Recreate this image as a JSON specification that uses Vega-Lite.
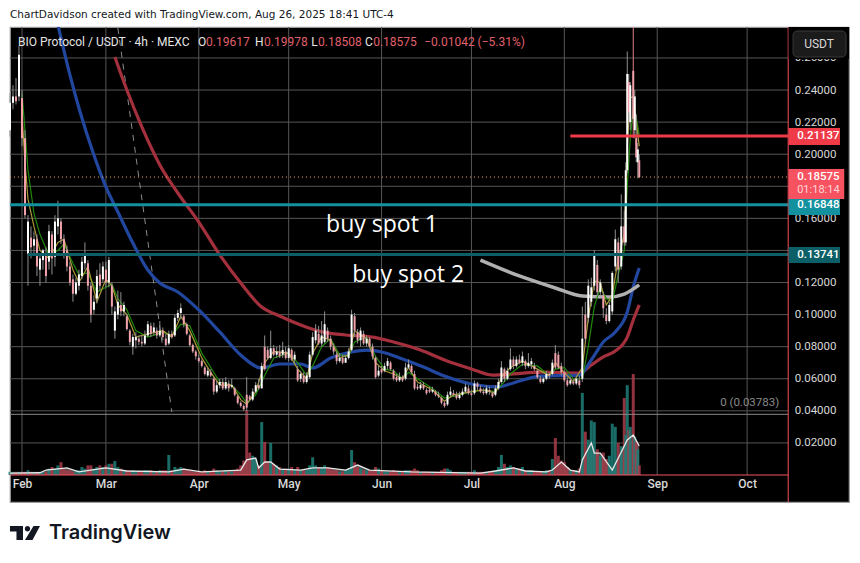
{
"$schema":"https://vega.github.io/schema/vega-lite/v6.json",
"width":839,"height":475,
"autosize":{"type":"none"},
"padding":{"left":10,"top":27,"right":11,"bottom":61},
"background":"#ffffff",
"view":{"fill":"#000000","stroke":"#9a9a9a","strokeWidth":1.2},
"datasets":{
"hgrid":[{"p":0.02,"a":"2025-01-28","b":"2025-10-14T17:00:00Z"},{"p":0.04,"a":"2025-01-28","b":"2025-10-14T17:00:00Z"},{"p":0.06,"a":"2025-01-28","b":"2025-10-14T17:00:00Z"},{"p":0.08,"a":"2025-01-28","b":"2025-10-14T17:00:00Z"},{"p":0.10,"a":"2025-01-28","b":"2025-10-14T17:00:00Z"},{"p":0.12,"a":"2025-01-28","b":"2025-10-14T17:00:00Z"},{"p":0.14,"a":"2025-01-28","b":"2025-10-14T17:00:00Z"},{"p":0.16,"a":"2025-01-28","b":"2025-10-14T17:00:00Z"},{"p":0.18,"a":"2025-01-28","b":"2025-10-14T17:00:00Z"},{"p":0.20,"a":"2025-01-28","b":"2025-10-14T17:00:00Z"},{"p":0.22,"a":"2025-01-28","b":"2025-10-14T17:00:00Z"},{"p":0.24,"a":"2025-01-28","b":"2025-10-14T17:00:00Z"},{"p":0.26,"a":"2025-01-28","b":"2025-10-14T17:00:00Z"}],
"vgrid":[{"t":"2025-02-01","a":0,"b":0.2793},{"t":"2025-03-01","a":0,"b":0.2793},{"t":"2025-04-01","a":0,"b":0.2793},{"t":"2025-05-01","a":0,"b":0.2793},{"t":"2025-06-01","a":0,"b":0.2793},{"t":"2025-07-01","a":0,"b":0.2793},{"t":"2025-08-01","a":0,"b":0.2793},{"t":"2025-09-01","a":0,"b":0.2793},{"t":"2025-10-01","a":0,"b":0.2793}],
"candles":[
{"t":"2025-01-28","o":0.215,"c":0.232,"h":0.238,"l":0.211,"v":0.002},
{"t":"2025-01-29","o":0.232,"c":0.236,"h":0.243,"l":0.228,"v":0.002},
{"t":"2025-01-30","o":0.236,"c":0.233,"h":0.2475,"l":0.231,"v":0.002},
{"t":"2025-01-31","o":0.236,"c":0.262,"h":0.2675,"l":0.233,"v":0.002},
{"t":"2025-02-01","o":0.235,"c":0.21,"h":0.24,"l":0.205,"v":0.002},
{"t":"2025-02-02","o":0.21,"c":0.162,"h":0.215,"l":0.16,"v":0.002},
{"t":"2025-02-03","o":0.138,"c":0.158,"h":0.162,"l":0.118,"v":0.003},
{"t":"2025-02-04","o":0.148,"c":0.142,"h":0.155,"l":0.135,"v":0.002},
{"t":"2025-02-05","o":0.143,"c":0.147,"h":0.152,"l":0.138,"v":0.002},
{"t":"2025-02-06","o":0.147,"c":0.13,"h":0.15,"l":0.124,"v":0.002},
{"t":"2025-02-07","o":0.128,"c":0.135,"h":0.137,"l":0.118,"v":0.002},
{"t":"2025-02-08","o":0.134,"c":0.14,"h":0.141,"l":0.128,"v":0.002},
{"t":"2025-02-09","o":0.138,"c":0.124,"h":0.142,"l":0.12,"v":0.002},
{"t":"2025-02-10","o":0.133,"c":0.152,"h":0.156,"l":0.128,"v":0.004},
{"t":"2025-02-11","o":0.15,"c":0.135,"h":0.152,"l":0.125,"v":0.005},
{"t":"2025-02-12","o":0.136,"c":0.158,"h":0.162,"l":0.13,"v":0.004},
{"t":"2025-02-13","o":0.155,"c":0.16,"h":0.171,"l":0.15,"v":0.006},
{"t":"2025-02-14","o":0.158,"c":0.147,"h":0.16,"l":0.144,"v":0.008},
{"t":"2025-02-15","o":0.147,"c":0.138,"h":0.15,"l":0.135,"v":0.004},
{"t":"2025-02-16","o":0.14,"c":0.13,"h":0.143,"l":0.127,"v":0.003},
{"t":"2025-02-17","o":0.13,"c":0.12,"h":0.133,"l":0.118,"v":0.003},
{"t":"2025-02-18","o":0.122,"c":0.113,"h":0.125,"l":0.108,"v":0.002},
{"t":"2025-02-19","o":0.113,"c":0.12,"h":0.123,"l":0.112,"v":0.003},
{"t":"2025-02-20","o":0.118,"c":0.125,"h":0.128,"l":0.115,"v":0.003},
{"t":"2025-02-21","o":0.124,"c":0.133,"h":0.136,"l":0.122,"v":0.005},
{"t":"2025-02-22","o":0.132,"c":0.138,"h":0.145,"l":0.128,"v":0.004},
{"t":"2025-02-23","o":0.132,"c":0.118,"h":0.134,"l":0.115,"v":0.006},
{"t":"2025-02-24","o":0.118,"c":0.1,"h":0.12,"l":0.095,"v":0.006},
{"t":"2025-02-25","o":0.103,"c":0.108,"h":0.112,"l":0.1,"v":0.004},
{"t":"2025-02-26","o":0.11,"c":0.124,"h":0.128,"l":0.107,"v":0.005},
{"t":"2025-02-27","o":0.125,"c":0.118,"h":0.132,"l":0.115,"v":0.006},
{"t":"2025-02-28","o":0.122,"c":0.13,"h":0.133,"l":0.12,"v":0.005},
{"t":"2025-03-01","o":0.128,"c":0.12,"h":0.133,"l":0.117,"v":0.006},
{"t":"2025-03-02","o":0.12,"c":0.134,"h":0.136,"l":0.117,"v":0.007},
{"t":"2025-03-03","o":0.118,"c":0.105,"h":0.12,"l":0.1,"v":0.007},
{"t":"2025-03-04","o":0.09,"c":0.102,"h":0.105,"l":0.085,"v":0.0087},
{"t":"2025-03-05","o":0.1,"c":0.108,"h":0.115,"l":0.097,"v":0.005},
{"t":"2025-03-06","o":0.106,"c":0.102,"h":0.114,"l":0.099,"v":0.004},
{"t":"2025-03-07","o":0.102,"c":0.106,"h":0.108,"l":0.099,"v":0.003},
{"t":"2025-03-08","o":0.099,"c":0.091,"h":0.1,"l":0.09,"v":0.003},
{"t":"2025-03-09","o":0.09,"c":0.083,"h":0.091,"l":0.081,"v":0.003},
{"t":"2025-03-10","o":0.08,"c":0.086,"h":0.088,"l":0.075,"v":0.003},
{"t":"2025-03-11","o":0.084,"c":0.086,"h":0.089,"l":0.079,"v":0.002},
{"t":"2025-03-12","o":0.085,"c":0.083,"h":0.087,"l":0.081,"v":0.002},
{"t":"2025-03-13","o":0.083,"c":0.082,"h":0.087,"l":0.08,"v":0.002},
{"t":"2025-03-14","o":0.082,"c":0.087,"h":0.09,"l":0.081,"v":0.003},
{"t":"2025-03-15","o":0.087,"c":0.094,"h":0.096,"l":0.086,"v":0.003},
{"t":"2025-03-16","o":0.093,"c":0.088,"h":0.095,"l":0.086,"v":0.003},
{"t":"2025-03-17","o":0.089,"c":0.092,"h":0.095,"l":0.087,"v":0.002},
{"t":"2025-03-18","o":0.09,"c":0.087,"h":0.092,"l":0.085,"v":0.002},
{"t":"2025-03-19","o":0.087,"c":0.09,"h":0.096,"l":0.086,"v":0.003},
{"t":"2025-03-20","o":0.09,"c":0.086,"h":0.092,"l":0.084,"v":0.003},
{"t":"2025-03-21","o":0.085,"c":0.081,"h":0.088,"l":0.08,"v":0.003},
{"t":"2025-03-22","o":0.082,"c":0.088,"h":0.09,"l":0.081,"v":0.0125},
{"t":"2025-03-23","o":0.088,"c":0.086,"h":0.09,"l":0.085,"v":0.003},
{"t":"2025-03-24","o":0.087,"c":0.098,"h":0.1,"l":0.086,"v":0.005},
{"t":"2025-03-25","o":0.098,"c":0.101,"h":0.103,"l":0.096,"v":0.004},
{"t":"2025-03-26","o":0.101,"c":0.104,"h":0.107,"l":0.097,"v":0.005},
{"t":"2025-03-27","o":0.099,"c":0.094,"h":0.1,"l":0.092,"v":0.004},
{"t":"2025-03-28","o":0.094,"c":0.088,"h":0.095,"l":0.087,"v":0.003},
{"t":"2025-03-29","o":0.087,"c":0.081,"h":0.088,"l":0.08,"v":0.003},
{"t":"2025-03-30","o":0.081,"c":0.077,"h":0.082,"l":0.076,"v":0.002},
{"t":"2025-03-31","o":0.077,"c":0.074,"h":0.078,"l":0.072,"v":0.002},
{"t":"2025-04-01","o":0.073,"c":0.071,"h":0.075,"l":0.07,"v":0.002},
{"t":"2025-04-02","o":0.071,"c":0.068,"h":0.072,"l":0.067,"v":0.002},
{"t":"2025-04-03","o":0.067,"c":0.063,"h":0.068,"l":0.062,"v":0.003},
{"t":"2025-04-04","o":0.062,"c":0.065,"h":0.067,"l":0.061,"v":0.002},
{"t":"2025-04-05","o":0.064,"c":0.062,"h":0.066,"l":0.061,"v":0.002},
{"t":"2025-04-06","o":0.06,"c":0.052,"h":0.061,"l":0.05,"v":0.004},
{"t":"2025-04-07","o":0.052,"c":0.056,"h":0.059,"l":0.051,"v":0.003},
{"t":"2025-04-08","o":0.056,"c":0.058,"h":0.06,"l":0.054,"v":0.002},
{"t":"2025-04-09","o":0.058,"c":0.054,"h":0.06,"l":0.053,"v":0.002},
{"t":"2025-04-10","o":0.054,"c":0.058,"h":0.061,"l":0.053,"v":0.003},
{"t":"2025-04-11","o":0.057,"c":0.054,"h":0.059,"l":0.052,"v":0.002},
{"t":"2025-04-12","o":0.055,"c":0.056,"h":0.06,"l":0.054,"v":0.002},
{"t":"2025-04-13","o":0.054,"c":0.05,"h":0.055,"l":0.049,"v":0.003},
{"t":"2025-04-14","o":0.049,"c":0.045,"h":0.05,"l":0.044,"v":0.004},
{"t":"2025-04-15","o":0.045,"c":0.043,"h":0.046,"l":0.042,"v":0.006},
{"t":"2025-04-16","o":0.043,"c":0.041,"h":0.044,"l":0.04,"v":0.009},
{"t":"2025-04-17","o":0.05,"c":0.042,"h":0.061,"l":0.04,"v":0.0405},
{"t":"2025-04-18","o":0.049,"c":0.047,"h":0.05,"l":0.046,"v":0.014},
{"t":"2025-04-19","o":0.047,"c":0.052,"h":0.054,"l":0.046,"v":0.012},
{"t":"2025-04-20","o":0.052,"c":0.056,"h":0.058,"l":0.051,"v":0.01},
{"t":"2025-04-21","o":0.056,"c":0.054,"h":0.06,"l":0.053,"v":0.006},
{"t":"2025-04-22","o":0.054,"c":0.068,"h":0.07,"l":0.054,"v":0.033},
{"t":"2025-04-23","o":0.08,"c":0.066,"h":0.087,"l":0.065,"v":0.0206},
{"t":"2025-04-24","o":0.078,"c":0.073,"h":0.08,"l":0.072,"v":0.008},
{"t":"2025-04-25","o":0.073,"c":0.079,"h":0.09,"l":0.072,"v":0.02},
{"t":"2025-04-26","o":0.079,"c":0.075,"h":0.081,"l":0.074,"v":0.007},
{"t":"2025-04-27","o":0.075,"c":0.077,"h":0.08,"l":0.073,"v":0.006},
{"t":"2025-04-28","o":0.077,"c":0.074,"h":0.081,"l":0.073,"v":0.005},
{"t":"2025-04-29","o":0.075,"c":0.078,"h":0.083,"l":0.073,"v":0.004},
{"t":"2025-04-30","o":0.077,"c":0.073,"h":0.08,"l":0.072,"v":0.004},
{"t":"2025-05-01","o":0.073,"c":0.079,"h":0.081,"l":0.071,"v":0.004},
{"t":"2025-05-02","o":0.078,"c":0.072,"h":0.079,"l":0.071,"v":0.005},
{"t":"2025-05-03","o":0.072,"c":0.075,"h":0.077,"l":0.07,"v":0.003},
{"t":"2025-05-04","o":0.066,"c":0.059,"h":0.068,"l":0.058,"v":0.005},
{"t":"2025-05-05","o":0.06,"c":0.063,"h":0.065,"l":0.058,"v":0.003},
{"t":"2025-05-06","o":0.062,"c":0.058,"h":0.064,"l":0.057,"v":0.003},
{"t":"2025-05-07","o":0.058,"c":0.062,"h":0.064,"l":0.057,"v":0.003},
{"t":"2025-05-08","o":0.061,"c":0.075,"h":0.077,"l":0.06,"v":0.006},
{"t":"2025-05-09","o":0.075,"c":0.086,"h":0.089,"l":0.074,"v":0.011},
{"t":"2025-05-10","o":0.084,"c":0.09,"h":0.094,"l":0.082,"v":0.006},
{"t":"2025-05-11","o":0.088,"c":0.082,"h":0.093,"l":0.081,"v":0.005},
{"t":"2025-05-12","o":0.082,"c":0.087,"h":0.096,"l":0.08,"v":0.005},
{"t":"2025-05-13","o":0.083,"c":0.094,"h":0.102,"l":0.082,"v":0.006},
{"t":"2025-05-14","o":0.09,"c":0.085,"h":0.092,"l":0.083,"v":0.005},
{"t":"2025-05-15","o":0.085,"c":0.08,"h":0.087,"l":0.078,"v":0.004},
{"t":"2025-05-16","o":0.08,"c":0.077,"h":0.082,"l":0.075,"v":0.003},
{"t":"2025-05-17","o":0.075,"c":0.071,"h":0.077,"l":0.069,"v":0.003},
{"t":"2025-05-18","o":0.071,"c":0.073,"h":0.076,"l":0.07,"v":0.002},
{"t":"2025-05-19","o":0.073,"c":0.07,"h":0.075,"l":0.069,"v":0.002},
{"t":"2025-05-20","o":0.07,"c":0.073,"h":0.075,"l":0.07,"v":0.003},
{"t":"2025-05-21","o":0.073,"c":0.077,"h":0.079,"l":0.072,"v":0.004},
{"t":"2025-05-22","o":0.078,"c":0.1,"h":0.103,"l":0.077,"v":0.0156},
{"t":"2025-05-23","o":0.099,"c":0.09,"h":0.101,"l":0.086,"v":0.008},
{"t":"2025-05-24","o":0.089,"c":0.084,"h":0.091,"l":0.082,"v":0.005},
{"t":"2025-05-25","o":0.084,"c":0.09,"h":0.092,"l":0.08,"v":0.004},
{"t":"2025-05-26","o":0.088,"c":0.082,"h":0.09,"l":0.081,"v":0.003},
{"t":"2025-05-27","o":0.082,"c":0.085,"h":0.087,"l":0.08,"v":0.003},
{"t":"2025-05-28","o":0.085,"c":0.08,"h":0.086,"l":0.079,"v":0.003},
{"t":"2025-05-29","o":0.08,"c":0.074,"h":0.082,"l":0.072,"v":0.003},
{"t":"2025-05-30","o":0.073,"c":0.061,"h":0.074,"l":0.06,"v":0.005},
{"t":"2025-05-31","o":0.062,"c":0.065,"h":0.068,"l":0.061,"v":0.004},
{"t":"2025-06-01","o":0.066,"c":0.064,"h":0.068,"l":0.063,"v":0.003},
{"t":"2025-06-02","o":0.065,"c":0.068,"h":0.07,"l":0.064,"v":0.002},
{"t":"2025-06-03","o":0.068,"c":0.071,"h":0.073,"l":0.066,"v":0.002},
{"t":"2025-06-04","o":0.07,"c":0.066,"h":0.071,"l":0.065,"v":0.002},
{"t":"2025-06-05","o":0.065,"c":0.06,"h":0.066,"l":0.059,"v":0.003},
{"t":"2025-06-06","o":0.061,"c":0.059,"h":0.063,"l":0.058,"v":0.002},
{"t":"2025-06-07","o":0.059,"c":0.061,"h":0.064,"l":0.058,"v":0.002},
{"t":"2025-06-08","o":0.061,"c":0.059,"h":0.062,"l":0.058,"v":0.002},
{"t":"2025-06-09","o":0.06,"c":0.067,"h":0.07,"l":0.059,"v":0.003},
{"t":"2025-06-10","o":0.067,"c":0.069,"h":0.072,"l":0.066,"v":0.003},
{"t":"2025-06-11","o":0.068,"c":0.064,"h":0.069,"l":0.063,"v":0.003},
{"t":"2025-06-12","o":0.063,"c":0.054,"h":0.065,"l":0.053,"v":0.004},
{"t":"2025-06-13","o":0.055,"c":0.054,"h":0.057,"l":0.053,"v":0.003},
{"t":"2025-06-14","o":0.054,"c":0.056,"h":0.058,"l":0.053,"v":0.002},
{"t":"2025-06-15","o":0.056,"c":0.054,"h":0.058,"l":0.053,"v":0.002},
{"t":"2025-06-16","o":0.053,"c":0.051,"h":0.054,"l":0.05,"v":0.002},
{"t":"2025-06-17","o":0.053,"c":0.052,"h":0.055,"l":0.051,"v":0.002},
{"t":"2025-06-18","o":0.052,"c":0.053,"h":0.055,"l":0.051,"v":0.002},
{"t":"2025-06-19","o":0.052,"c":0.05,"h":0.053,"l":0.049,"v":0.002},
{"t":"2025-06-20","o":0.05,"c":0.049,"h":0.052,"l":0.048,"v":0.002},
{"t":"2025-06-21","o":0.048,"c":0.045,"h":0.049,"l":0.044,"v":0.003},
{"t":"2025-06-22","o":0.045,"c":0.043,"h":0.046,"l":0.042,"v":0.004},
{"t":"2025-06-23","o":0.044,"c":0.05,"h":0.052,"l":0.043,"v":0.004},
{"t":"2025-06-24","o":0.05,"c":0.052,"h":0.055,"l":0.049,"v":0.003},
{"t":"2025-06-25","o":0.051,"c":0.05,"h":0.053,"l":0.049,"v":0.002},
{"t":"2025-06-26","o":0.05,"c":0.048,"h":0.052,"l":0.047,"v":0.002},
{"t":"2025-06-27","o":0.048,"c":0.05,"h":0.052,"l":0.047,"v":0.002},
{"t":"2025-06-28","o":0.05,"c":0.052,"h":0.054,"l":0.049,"v":0.002},
{"t":"2025-06-29","o":0.052,"c":0.055,"h":0.057,"l":0.051,"v":0.002},
{"t":"2025-06-30","o":0.054,"c":0.051,"h":0.056,"l":0.05,"v":0.002},
{"t":"2025-07-01","o":0.051,"c":0.05,"h":0.053,"l":0.049,"v":0.002},
{"t":"2025-07-02","o":0.051,"c":0.057,"h":0.059,"l":0.05,"v":0.003},
{"t":"2025-07-03","o":0.057,"c":0.055,"h":0.058,"l":0.053,"v":0.002},
{"t":"2025-07-04","o":0.054,"c":0.052,"h":0.056,"l":0.051,"v":0.002},
{"t":"2025-07-05","o":0.052,"c":0.051,"h":0.054,"l":0.05,"v":0.002},
{"t":"2025-07-06","o":0.051,"c":0.054,"h":0.056,"l":0.05,"v":0.002},
{"t":"2025-07-07","o":0.053,"c":0.052,"h":0.055,"l":0.05,"v":0.002},
{"t":"2025-07-08","o":0.051,"c":0.049,"h":0.052,"l":0.048,"v":0.002},
{"t":"2025-07-09","o":0.05,"c":0.054,"h":0.056,"l":0.049,"v":0.003},
{"t":"2025-07-10","o":0.054,"c":0.058,"h":0.06,"l":0.053,"v":0.005},
{"t":"2025-07-11","o":0.058,"c":0.067,"h":0.071,"l":0.057,"v":0.0125},
{"t":"2025-07-12","o":0.066,"c":0.06,"h":0.067,"l":0.058,"v":0.007},
{"t":"2025-07-13","o":0.06,"c":0.065,"h":0.067,"l":0.059,"v":0.005},
{"t":"2025-07-14","o":0.066,"c":0.072,"h":0.079,"l":0.065,"v":0.006},
{"t":"2025-07-15","o":0.072,"c":0.068,"h":0.074,"l":0.066,"v":0.005},
{"t":"2025-07-16","o":0.068,"c":0.072,"h":0.074,"l":0.067,"v":0.004},
{"t":"2025-07-17","o":0.072,"c":0.07,"h":0.075,"l":0.069,"v":0.004},
{"t":"2025-07-18","o":0.07,"c":0.074,"h":0.077,"l":0.068,"v":0.005},
{"t":"2025-07-19","o":0.071,"c":0.068,"h":0.072,"l":0.066,"v":0.003},
{"t":"2025-07-20","o":0.068,"c":0.07,"h":0.076,"l":0.067,"v":0.003},
{"t":"2025-07-21","o":0.069,"c":0.071,"h":0.073,"l":0.066,"v":0.003},
{"t":"2025-07-22","o":0.068,"c":0.066,"h":0.07,"l":0.065,"v":0.002},
{"t":"2025-07-23","o":0.065,"c":0.061,"h":0.066,"l":0.06,"v":0.002},
{"t":"2025-07-24","o":0.06,"c":0.058,"h":0.062,"l":0.057,"v":0.002},
{"t":"2025-07-25","o":0.058,"c":0.06,"h":0.061,"l":0.057,"v":0.002},
{"t":"2025-07-26","o":0.06,"c":0.063,"h":0.065,"l":0.059,"v":0.003},
{"t":"2025-07-27","o":0.063,"c":0.062,"h":0.064,"l":0.06,"v":0.003},
{"t":"2025-07-28","o":0.063,"c":0.07,"h":0.072,"l":0.062,"v":0.01},
{"t":"2025-07-29","o":0.076,"c":0.067,"h":0.081,"l":0.066,"v":0.023},
{"t":"2025-07-30","o":0.075,"c":0.067,"h":0.077,"l":0.066,"v":0.012},
{"t":"2025-07-31","o":0.068,"c":0.064,"h":0.07,"l":0.062,"v":0.009},
{"t":"2025-08-01","o":0.064,"c":0.059,"h":0.065,"l":0.058,"v":0.008},
{"t":"2025-08-02","o":0.059,"c":0.056,"h":0.061,"l":0.055,"v":0.005},
{"t":"2025-08-03","o":0.057,"c":0.059,"h":0.061,"l":0.056,"v":0.003},
{"t":"2025-08-04","o":0.058,"c":0.057,"h":0.06,"l":0.056,"v":0.003},
{"t":"2025-08-05","o":0.057,"c":0.06,"h":0.061,"l":0.056,"v":0.003},
{"t":"2025-08-06","o":0.059,"c":0.056,"h":0.062,"l":0.054,"v":0.004},
{"t":"2025-08-07","o":0.06,"c":0.085,"h":0.105,"l":0.058,"v":0.0512},
{"t":"2025-08-08","o":0.1,"c":0.085,"h":0.108,"l":0.083,"v":0.027},
{"t":"2025-08-09","o":0.098,"c":0.118,"h":0.122,"l":0.095,"v":0.022},
{"t":"2025-08-10","o":0.108,"c":0.117,"h":0.123,"l":0.105,"v":0.034},
{"t":"2025-08-11","o":0.118,"c":0.137,"h":0.14,"l":0.115,"v":0.033},
{"t":"2025-08-12","o":0.131,"c":0.114,"h":0.134,"l":0.112,"v":0.016},
{"t":"2025-08-13","o":0.114,"c":0.12,"h":0.122,"l":0.112,"v":0.012},
{"t":"2025-08-14","o":0.112,"c":0.104,"h":0.114,"l":0.098,"v":0.014},
{"t":"2025-08-15","o":0.1,"c":0.096,"h":0.104,"l":0.094,"v":0.01},
{"t":"2025-08-16","o":0.096,"c":0.106,"h":0.108,"l":0.095,"v":0.012},
{"t":"2025-08-17","o":0.102,"c":0.126,"h":0.127,"l":0.1,"v":0.032},
{"t":"2025-08-18","o":0.13,"c":0.147,"h":0.153,"l":0.127,"v":0.03},
{"t":"2025-08-19","o":0.145,"c":0.128,"h":0.148,"l":0.12,"v":0.02},
{"t":"2025-08-20","o":0.13,"c":0.155,"h":0.175,"l":0.128,"v":0.018},
{"t":"2025-08-21","o":0.155,"c":0.145,"h":0.165,"l":0.143,"v":0.048},
{"t":"2025-08-21T12:00:00Z","o":0.145,"c":0.19,"h":0.195,"l":0.143,"v":0.025},
{"t":"2025-08-22","o":0.19,"c":0.25,"h":0.264,"l":0.188,"v":0.056},
{"t":"2025-08-22T12:00:00Z","o":0.245,"c":0.226,"h":0.25,"l":0.22,"v":0.028},
{"t":"2025-08-23","o":0.22,"c":0.243,"h":0.245,"l":0.215,"v":0.03},
{"t":"2025-08-24","o":0.252,"c":0.222,"h":0.2793,"l":0.21,"v":0.063},
{"t":"2025-08-24T12:00:00Z","o":0.215,"c":0.236,"h":0.24,"l":0.21,"v":0.024},
{"t":"2025-08-25","o":0.21,"c":0.198,"h":0.225,"l":0.195,"v":0.021},
{"t":"2025-08-25T12:00:00Z","o":0.195,"c":0.203,"h":0.207,"l":0.185,"v":0.016},
{"t":"2025-08-26","o":0.19617,"c":0.18575,"h":0.19978,"l":0.18508,"v":0.006}
],
"volMa":[{"t":"2025-01-28","v":0.0012},{"t":"2025-02-07","v":0.0014},{"t":"2025-02-09","v":0.0031},{"t":"2025-02-16","v":0.0044},{"t":"2025-02-20","v":0.0019},{"t":"2025-03-01","v":0.0044},{"t":"2025-03-08","v":0.0025},{"t":"2025-03-22","v":0.0019},{"t":"2025-03-27","v":0.0037},{"t":"2025-04-02","v":0.0019},{"t":"2025-04-15","v":0.0031},{"t":"2025-04-17","v":0.0094},{"t":"2025-04-20","v":0.0106},{"t":"2025-04-21","v":0.0044},{"t":"2025-04-23","v":0.0081},{"t":"2025-04-25","v":0.0081},{"t":"2025-04-28","v":0.0037},{"t":"2025-05-05","v":0.0031},{"t":"2025-05-09","v":0.0044},{"t":"2025-05-14","v":0.0044},{"t":"2025-05-20","v":0.0031},{"t":"2025-05-24","v":0.0062},{"t":"2025-05-28","v":0.0031},{"t":"2025-06-11","v":0.0019},{"t":"2025-07-04","v":0.0012},{"t":"2025-07-09","v":0.0025},{"t":"2025-07-15","v":0.0044},{"t":"2025-07-19","v":0.0025},{"t":"2025-07-26","v":0.0019},{"t":"2025-07-28","v":0.0031},{"t":"2025-07-31","v":0.0081},{"t":"2025-08-03","v":0.0031},{"t":"2025-08-06","v":0.0019},{"t":"2025-08-07","v":0.0094},{"t":"2025-08-10","v":0.02},{"t":"2025-08-11","v":0.0137},{"t":"2025-08-13","v":0.0137},{"t":"2025-08-17","v":0.0031},{"t":"2025-08-20","v":0.0143},{"t":"2025-08-22","v":0.0218},{"t":"2025-08-24","v":0.0249},{"t":"2025-08-26","v":0.0181}],
"blue":[{"t":"2025-02-13","p":0.2805},{"t":"2025-02-17","p":0.2494},{"t":"2025-02-20","p":0.2288},{"t":"2025-02-25","p":0.1995},{"t":"2025-03-01","p":0.1796},{"t":"2025-03-05","p":0.164},{"t":"2025-03-10","p":0.1446},{"t":"2025-03-15","p":0.1278},{"t":"2025-03-19","p":0.1197},{"t":"2025-03-25","p":0.1141},{"t":"2025-04-01","p":0.1029},{"t":"2025-04-08","p":0.0892},{"t":"2025-04-15","p":0.0748},{"t":"2025-04-22","p":0.0667},{"t":"2025-04-28","p":0.0692},{"t":"2025-05-05","p":0.0692},{"t":"2025-05-09","p":0.0667},{"t":"2025-05-15","p":0.0729},{"t":"2025-05-22","p":0.0767},{"t":"2025-05-27","p":0.0779},{"t":"2025-06-01","p":0.0767},{"t":"2025-06-08","p":0.0723},{"t":"2025-06-15","p":0.0673},{"t":"2025-06-22","p":0.0617},{"t":"2025-07-01","p":0.0567},{"t":"2025-07-10","p":0.0549},{"t":"2025-07-15","p":0.0574},{"t":"2025-07-24","p":0.0617},{"t":"2025-08-06","p":0.0623},{"t":"2025-08-10","p":0.0717},{"t":"2025-08-14","p":0.0829},{"t":"2025-08-18","p":0.0892},{"t":"2025-08-22","p":0.1016},{"t":"2025-08-24","p":0.1172},{"t":"2025-08-26","p":0.1291}],
"red":[{"t":"2025-03-04","p":0.2606},{"t":"2025-03-08","p":0.24},{"t":"2025-03-13","p":0.217},{"t":"2025-03-19","p":0.1933},{"t":"2025-03-25","p":0.1758},{"t":"2025-04-01","p":0.1577},{"t":"2025-04-08","p":0.1372},{"t":"2025-04-15","p":0.1197},{"t":"2025-04-22","p":0.1047},{"t":"2025-04-28","p":0.0991},{"t":"2025-05-05","p":0.0935},{"t":"2025-05-12","p":0.0892},{"t":"2025-05-20","p":0.0873},{"t":"2025-05-29","p":0.086},{"t":"2025-06-05","p":0.0829},{"t":"2025-06-14","p":0.0779},{"t":"2025-06-22","p":0.0717},{"t":"2025-07-01","p":0.0661},{"t":"2025-07-08","p":0.0623},{"t":"2025-07-15","p":0.063},{"t":"2025-07-24","p":0.0642},{"t":"2025-08-06","p":0.0636},{"t":"2025-08-10","p":0.0686},{"t":"2025-08-14","p":0.0736},{"t":"2025-08-18","p":0.0773},{"t":"2025-08-22","p":0.086},{"t":"2025-08-24","p":0.0966},{"t":"2025-08-26","p":0.106}],
"gray":[{"t":"2025-07-04","p":0.134},{"t":"2025-07-17","p":0.1241},{"t":"2025-07-29","p":0.1166},{"t":"2025-08-07","p":0.1116},{"t":"2025-08-16","p":0.111},{"t":"2025-08-21","p":0.1128},{"t":"2025-08-26","p":0.1185}],
"dash":[{"t":"2025-03-05","p":0.2787},{"t":"2025-03-23","p":0.0393}],
"ma":[{"t":"2025-02-01","a":0.225,"b":0.238},{"t":"2025-02-02","a":0.195,"b":0.215},{"t":"2025-02-03","a":0.172,"b":0.19},{"t":"2025-02-05","a":0.155,"b":0.163},{"t":"2025-02-07","a":0.14,"b":0.15},{"t":"2025-02-10","a":0.135,"b":0.137},{"t":"2025-02-13","a":0.145,"b":0.14},{"t":"2025-02-15","a":0.147,"b":0.144},{"t":"2025-02-18","a":0.128,"b":0.132},{"t":"2025-02-20","a":0.12,"b":0.125},{"t":"2025-02-23","a":0.13,"b":0.126},{"t":"2025-02-26","a":0.108,"b":0.114},{"t":"2025-03-01","a":0.122,"b":0.117},{"t":"2025-03-03","a":0.118,"b":0.119},{"t":"2025-03-05","a":0.106,"b":0.11},{"t":"2025-03-08","a":0.1,"b":0.103},{"t":"2025-03-11","a":0.086,"b":0.09},{"t":"2025-03-15","a":0.088,"b":0.086},{"t":"2025-03-20","a":0.09,"b":0.089},{"t":"2025-03-23","a":0.086,"b":0.087},{"t":"2025-03-26","a":0.099,"b":0.094},{"t":"2025-03-29","a":0.09,"b":0.093},{"t":"2025-04-02","a":0.073,"b":0.076},{"t":"2025-04-05","a":0.064,"b":0.067},{"t":"2025-04-08","a":0.056,"b":0.058},{"t":"2025-04-12","a":0.056,"b":0.056},{"t":"2025-04-15","a":0.047,"b":0.05},{"t":"2025-04-17","a":0.044,"b":0.045},{"t":"2025-04-20","a":0.052,"b":0.05},{"t":"2025-04-23","a":0.07,"b":0.062},{"t":"2025-04-26","a":0.077,"b":0.073},{"t":"2025-05-01","a":0.076,"b":0.076},{"t":"2025-05-04","a":0.066,"b":0.07},{"t":"2025-05-07","a":0.06,"b":0.062},{"t":"2025-05-09","a":0.076,"b":0.068},{"t":"2025-05-12","a":0.086,"b":0.08},{"t":"2025-05-15","a":0.084,"b":0.085},{"t":"2025-05-18","a":0.073,"b":0.075},{"t":"2025-05-21","a":0.075,"b":0.074},{"t":"2025-05-23","a":0.09,"b":0.083},{"t":"2025-05-27","a":0.085,"b":0.086},{"t":"2025-05-30","a":0.07,"b":0.074},{"t":"2025-06-02","a":0.065,"b":0.066},{"t":"2025-06-05","a":0.063,"b":0.065},{"t":"2025-06-08","a":0.06,"b":0.06},{"t":"2025-06-10","a":0.067,"b":0.064},{"t":"2025-06-13","a":0.058,"b":0.06},{"t":"2025-06-18","a":0.053,"b":0.054},{"t":"2025-06-22","a":0.046,"b":0.048},{"t":"2025-06-25","a":0.05,"b":0.049},{"t":"2025-07-01","a":0.052,"b":0.052},{"t":"2025-07-05","a":0.053,"b":0.053},{"t":"2025-07-09","a":0.051,"b":0.052},{"t":"2025-07-11","a":0.061,"b":0.056},{"t":"2025-07-14","a":0.067,"b":0.063},{"t":"2025-07-18","a":0.071,"b":0.069},{"t":"2025-07-23","a":0.066,"b":0.068},{"t":"2025-07-27","a":0.062,"b":0.062},{"t":"2025-07-29","a":0.07,"b":0.066},{"t":"2025-08-01","a":0.064,"b":0.067},{"t":"2025-08-04","a":0.058,"b":0.06},{"t":"2025-08-07","a":0.067,"b":0.06},{"t":"2025-08-09","a":0.098,"b":0.08},{"t":"2025-08-11","a":0.121,"b":0.105},{"t":"2025-08-13","a":0.12,"b":0.117},{"t":"2025-08-15","a":0.106,"b":0.11},{"t":"2025-08-17","a":0.112,"b":0.108},{"t":"2025-08-19","a":0.135,"b":0.125},{"t":"2025-08-21","a":0.15,"b":0.14},{"t":"2025-08-22","a":0.205,"b":0.18},{"t":"2025-08-23","a":0.235,"b":0.21},{"t":"2025-08-24","a":0.236,"b":0.228},{"t":"2025-08-25","a":0.22,"b":0.223},{"t":"2025-08-26","a":0.205,"b":0.212}],
"levelCyan":[{"a":"2025-01-28","b":"2025-10-14T17:00:00Z","p":0.16848}],
"levelTeal":[{"a":"2025-02-03","b":"2025-10-14T17:00:00Z","p":0.13741}],
"levelRed":[{"a":"2025-08-03","b":"2025-10-14T17:00:00Z","p":0.21137}],
"levelPrice":[{"a":"2025-01-28","b":"2025-10-14T17:00:00Z","p":0.18575}],
"levelZero":[{"a":"2025-01-28","b":"2025-10-14T17:00:00Z","p":0.03783}],
"axisX":[{"a":"2025-01-28","b":"2025-10-14T17:00:00Z","p":0}],
"axisY":[{"t":"2025-10-14T17:00:00Z","a":-0.01683,"b":0.2793}],
"mask":[{"a":"2025-10-14T20:00:00Z","b":"2025-11-04","p":0.2793,"q":0.2594}],
"button":[{"a":"2025-10-16T08:00:00Z","b":"2025-11-03","p":0.2768,"q":0.2606}],
"tagRed":[{"a":"2025-10-14T20:00:00Z","b":"2025-11-01","p":0.2163,"q":0.2057}],
"tagPrice":[{"a":"2025-10-14T20:00:00Z","b":"2025-11-02T10:00:00Z","p":0.1908,"q":0.1721}],
"tagCyan":[{"a":"2025-10-14T20:00:00Z","b":"2025-11-01","p":0.1721,"q":0.1621}],
"tagTeal":[{"a":"2025-10-14T20:00:00Z","b":"2025-11-01","p":0.1421,"q":0.1322}],
"tagText":[{"t":"2025-10-17T17:00:00Z","p":0.21137,"s":"0.21137"},{"t":"2025-10-17T17:00:00Z","p":0.18575,"s":"0.18575"},{"t":"2025-10-17T17:00:00Z","p":0.16848,"s":"0.16848"},{"t":"2025-10-17T17:00:00Z","p":0.13741,"s":"0.13741"}],
"timer":[{"t":"2025-10-17T17:00:00Z","p":0.1777,"s":"01:18:14"}],
"unit":[{"t":"2025-10-25","p":0.2687,"s":"USDT"}],
"buy":[{"t":"2025-05-13T12:00:00Z","p":0.1559,"s":"buy spot 1"},{"t":"2025-05-22T05:00:00Z","p":0.1247,"s":"buy spot 2"}],
"fib":[{"t":"2025-10-11T17:00:00Z","p":0.0449,"s":"0 (0.03783)"}],
"legendWhite":[{"t":"2025-01-30T16:00:00Z","p":0.2699,"s":"BIO Protocol / USDT · 4h · MEXC"},{"t":"2025-03-31T18:00:00Z","p":0.2699,"s":"O"},{"t":"2025-04-19T19:00:00Z","p":0.2699,"s":"H"},{"t":"2025-05-08T12:00:00Z","p":0.2699,"s":"L"},{"t":"2025-05-26T12:00:00Z","p":0.2699,"s":"C"}],
"legendPink":[{"t":"2025-04-03T10:00:00Z","p":0.2699,"s":"0.19617"},{"t":"2025-04-22T19:00:00Z","p":0.2699,"s":"0.19978"},{"t":"2025-05-10T19:00:00Z","p":0.2699,"s":"0.18508"},{"t":"2025-05-29T05:00:00Z","p":0.2699,"s":"0.18575"},{"t":"2025-06-15T05:00:00Z","p":0.2699,"s":"−0.01042 (−5.31%)"}],
"header":[{"t":"2025-01-28","p":0.2868,"s":"ChartDavidson created with TradingView.com, Aug 26, 2025 18:41 UTC-4"}],
"logo":[{"t":"2025-02-02","p":-0.0362}],
"brand":[{"t":"2025-02-10","p":-0.0362,"s":"TradingView"}]
},
"layer":[
{"data":{"name":"hgrid"},"mark":{"type":"rule","color":"#565656","strokeWidth":1},
 "encoding":{
  "x":{"field":"a","type":"temporal","scale":{"type":"utc","domain":["2025-01-28","2025-11-04"],"padding":0},
   "axis":{"title":null,"values":["2025-02-01","2025-03-01","2025-04-01","2025-05-01","2025-06-01","2025-07-01","2025-08-01","2025-09-01","2025-10-01"],"labelExpr":"utcFormat(datum.value,'%b')","grid":false,"domain":false,"ticks":false,"labelPadding":-24,"labelColor":"#d8d8d8","labelFont":"Roboto","labelFontSize":12,"labelFontWeight":500,"labelOverlap":false,"labelFlush":false}},
  "x2":{"field":"b"},
  "y":{"field":"p","type":"quantitative","scale":{"domain":[-0.01683,0.2793],"nice":false,"zero":false},
   "axis":{"title":null,"orient":"right","values":[0.02,0.04,0.06,0.08,0.1,0.12,0.16,0.2,0.22,0.24,0.26],"labelExpr":"format(datum.value,'.5f')","grid":false,"domain":false,"ticks":false,"labelAlign":"right","labelPadding":-13,"labelColor":"#d8d8d8","labelFont":"Roboto","labelFontSize":11.5,"labelOverlap":false,"labelFlush":false}}}},
{"data":{"name":"vgrid"},"mark":{"type":"rule","color":"#565656","strokeWidth":1},
 "encoding":{"x":{"field":"t","type":"temporal"},"y":{"field":"a","type":"quantitative"},"y2":{"field":"b"}}},
{"data":{"name":"volMa"},"mark":{"type":"area","color":"#7d7d7d","opacity":0.6},
 "encoding":{"x":{"field":"t","type":"temporal"},"y":{"field":"v","type":"quantitative"}}},
{"data":{"name":"candles"},"mark":{"type":"bar","width":3,"opacity":0.85},
 "encoding":{"x":{"field":"t","type":"temporal"},"y":{"field":"v","type":"quantitative","stack":null},
  "color":{"condition":{"test":"datum.c>=datum.o","value":"#1f7f78"},"value":"#a83c4a"}}},
{"data":{"name":"volMa"},"mark":{"type":"line","color":"#e8e8e8","strokeWidth":1.3},
 "encoding":{"x":{"field":"t","type":"temporal"},"y":{"field":"v","type":"quantitative"}}},
{"data":{"name":"levelZero"},"mark":{"type":"rule","color":"#8a8a8a","strokeWidth":1},
 "encoding":{"x":{"field":"a","type":"temporal"},"x2":{"field":"b"},"y":{"field":"p","type":"quantitative"}}},
{"data":{"name":"dash"},"mark":{"type":"line","color":"#8c8c8c","strokeWidth":1,"strokeDash":[6,6]},
 "encoding":{"x":{"field":"t","type":"temporal"},"y":{"field":"p","type":"quantitative"}}},
{"data":{"name":"red"},"mark":{"type":"line","color":"#a3303c","strokeWidth":3.2,"interpolate":"monotone"},
 "encoding":{"x":{"field":"t","type":"temporal"},"y":{"field":"p","type":"quantitative"}}},
{"data":{"name":"blue"},"mark":{"type":"line","color":"#21479f","strokeWidth":3.2,"interpolate":"monotone","clip":true},
 "encoding":{"x":{"field":"t","type":"temporal"},"y":{"field":"p","type":"quantitative"}}},
{"data":{"name":"gray"},"mark":{"type":"line","color":"#b0b0b0","strokeWidth":3.5,"interpolate":"monotone"},
 "encoding":{"x":{"field":"t","type":"temporal"},"y":{"field":"p","type":"quantitative"}}},
{"data":{"name":"ma"},"mark":{"type":"line","color":"#1f8a0a","strokeWidth":1.2},
 "encoding":{"x":{"field":"t","type":"temporal"},"y":{"field":"b","type":"quantitative"}}},
{"data":{"name":"ma"},"mark":{"type":"line","color":"#a89a38","strokeWidth":1.2},
 "encoding":{"x":{"field":"t","type":"temporal"},"y":{"field":"a","type":"quantitative"}}},
{"data":{"name":"candles"},"mark":{"type":"rule","strokeWidth":1},
 "encoding":{"x":{"field":"t","type":"temporal"},"y":{"field":"l","type":"quantitative"},"y2":{"field":"h"},
  "color":{"condition":{"test":"datum.h>0.27","value":"#e0808c"},"value":"#8f8f8f"}}},
{"data":{"name":"candles"},"mark":{"type":"rule","strokeWidth":2},
 "encoding":{"x":{"field":"t","type":"temporal"},"y":{"field":"o","type":"quantitative"},"y2":{"field":"c"},
  "color":{"condition":{"test":"datum.c>=datum.o","value":"#ffffff"},"value":"#f2a0aa"}}},
{"data":{"name":"levelPrice"},"mark":{"type":"rule","color":"#f7a35f","strokeWidth":1,"strokeDash":[1,3]},
 "encoding":{"x":{"field":"a","type":"temporal"},"x2":{"field":"b"},"y":{"field":"p","type":"quantitative"}}},
{"data":{"name":"levelCyan"},"mark":{"type":"rule","color":"#14919f","strokeWidth":3},
 "encoding":{"x":{"field":"a","type":"temporal"},"x2":{"field":"b"},"y":{"field":"p","type":"quantitative"}}},
{"data":{"name":"levelTeal"},"mark":{"type":"rule","color":"#0c5f66","strokeWidth":3},
 "encoding":{"x":{"field":"a","type":"temporal"},"x2":{"field":"b"},"y":{"field":"p","type":"quantitative"}}},
{"data":{"name":"levelRed"},"mark":{"type":"rule","color":"#ef3a48","strokeWidth":3},
 "encoding":{"x":{"field":"a","type":"temporal"},"x2":{"field":"b"},"y":{"field":"p","type":"quantitative"}}},
{"data":{"name":"axisX"},"mark":{"type":"rule","color":"#f7525f","strokeWidth":1},
 "encoding":{"x":{"field":"a","type":"temporal"},"x2":{"field":"b"},"y":{"field":"p","type":"quantitative"}}},
{"data":{"name":"axisY"},"mark":{"type":"rule","color":"#f7525f","strokeWidth":1},
 "encoding":{"x":{"field":"t","type":"temporal"},"y":{"field":"a","type":"quantitative"},"y2":{"field":"b"}}},
{"data":{"name":"mask"},"mark":{"type":"rect","color":"#000000"},
 "encoding":{"x":{"field":"a","type":"temporal"},"x2":{"field":"b"},"y":{"field":"p","type":"quantitative"},"y2":{"field":"q"}}},
{"data":{"name":"button"},"mark":{"type":"rect","color":"#1b1b1b","stroke":"#3a3a3a","cornerRadius":4},
 "encoding":{"x":{"field":"a","type":"temporal"},"x2":{"field":"b"},"y":{"field":"p","type":"quantitative"},"y2":{"field":"q"}}},
{"data":{"name":"tagRed"},"mark":{"type":"rect","color":"#ef3a48"},
 "encoding":{"x":{"field":"a","type":"temporal"},"x2":{"field":"b"},"y":{"field":"p","type":"quantitative"},"y2":{"field":"q"}}},
{"data":{"name":"tagPrice"},"mark":{"type":"rect","color":"#f7525f"},
 "encoding":{"x":{"field":"a","type":"temporal"},"x2":{"field":"b"},"y":{"field":"p","type":"quantitative"},"y2":{"field":"q"}}},
{"data":{"name":"tagCyan"},"mark":{"type":"rect","color":"#14919f"},
 "encoding":{"x":{"field":"a","type":"temporal"},"x2":{"field":"b"},"y":{"field":"p","type":"quantitative"},"y2":{"field":"q"}}},
{"data":{"name":"tagTeal"},"mark":{"type":"rect","color":"#0c5f66"},
 "encoding":{"x":{"field":"a","type":"temporal"},"x2":{"field":"b"},"y":{"field":"p","type":"quantitative"},"y2":{"field":"q"}}},
{"data":{"name":"tagText"},"mark":{"type":"text","color":"#ffffff","font":"Roboto","fontSize":11.5,"fontWeight":500,"align":"left","baseline":"middle"},
 "encoding":{"x":{"field":"t","type":"temporal"},"y":{"field":"p","type":"quantitative"},"text":{"field":"s"}}},
{"data":{"name":"timer"},"mark":{"type":"text","color":"#ffd5d9","font":"Roboto","fontSize":11,"align":"left","baseline":"middle"},
 "encoding":{"x":{"field":"t","type":"temporal"},"y":{"field":"p","type":"quantitative"},"text":{"field":"s"}}},
{"data":{"name":"unit"},"mark":{"type":"text","color":"#d8d8d8","font":"Roboto","fontSize":12,"align":"center","baseline":"middle"},
 "encoding":{"x":{"field":"t","type":"temporal"},"y":{"field":"p","type":"quantitative"},"text":{"field":"s"}}},
{"data":{"name":"buy"},"mark":{"type":"text","color":"#ffffff","font":"Open Sans","fontSize":23,"align":"left","baseline":"middle"},
 "encoding":{"x":{"field":"t","type":"temporal"},"y":{"field":"p","type":"quantitative"},"text":{"field":"s"}}},
{"data":{"name":"fib"},"mark":{"type":"text","color":"#8a8a8a","font":"Roboto","fontSize":11.5,"align":"right","baseline":"middle"},
 "encoding":{"x":{"field":"t","type":"temporal"},"y":{"field":"p","type":"quantitative"},"text":{"field":"s"}}},
{"data":{"name":"legendWhite"},"mark":{"type":"text","color":"#e6e6e6","font":"Roboto","fontSize":12,"align":"left","baseline":"middle"},
 "encoding":{"x":{"field":"t","type":"temporal"},"y":{"field":"p","type":"quantitative"},"text":{"field":"s"}}},
{"data":{"name":"legendPink"},"mark":{"type":"text","color":"#e0606c","font":"Roboto","fontSize":12,"align":"left","baseline":"middle"},
 "encoding":{"x":{"field":"t","type":"temporal"},"y":{"field":"p","type":"quantitative"},"text":{"field":"s"}}},
{"data":{"name":"header"},"mark":{"type":"text","color":"#131722","font":"DejaVu Sans","fontSize":10.5,"align":"left","baseline":"middle"},
 "encoding":{"x":{"field":"t","type":"temporal"},"y":{"field":"p","type":"quantitative"},"text":{"field":"s"}}},
{"data":{"name":"logo"},"mark":{"type":"point","filled":true,"color":"#131722","opacity":1,"size":900,"shape":"M-1,-0.467L-0.133,-0.467L-0.133,0.467L-0.567,0.467L-0.567,-0.1L-1,-0.1ZM-0.013,-0.287a0.18,0.18 0 1,0 0.36,0a0.18,0.18 0 1,0 -0.36,0ZM0.567,-0.467L1,-0.467L0.5,0.467L0,0.467Z"},
 "encoding":{"x":{"field":"t","type":"temporal"},"y":{"field":"p","type":"quantitative"}}},
{"data":{"name":"brand"},"mark":{"type":"text","color":"#131722","font":"Inter","fontSize":20,"fontWeight":600,"align":"left","baseline":"middle"},
 "encoding":{"x":{"field":"t","type":"temporal"},"y":{"field":"p","type":"quantitative"},"text":{"field":"s"}}}
]
}
